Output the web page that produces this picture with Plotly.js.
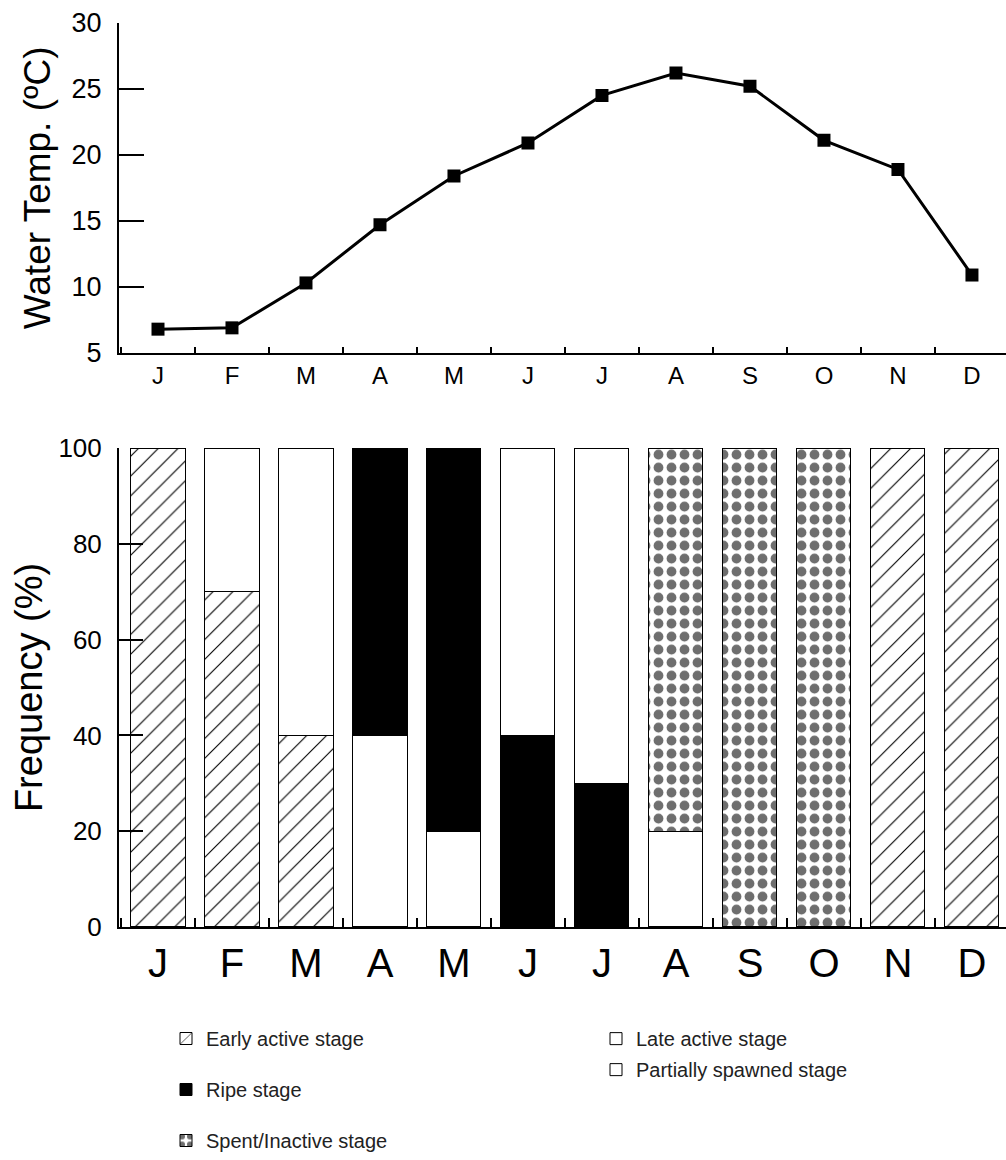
<!DOCTYPE html>
<html>
<head>
<meta charset="utf-8">
<script src="https://cdn.plot.ly/plotly-3.0.1.min.js"></script>
<style>
  html, body { margin: 0; padding: 0; background: #fff; }
  #chart { width: 1006px; height: 1160px; }
</style>
</head>
<body>
<div id="chart"></div>
<script>
// ---- data ----
const months = ["Jan","Feb","Mar","Apr","May","Jun","Jul","Aug","Sep","Oct","Nov","Dec"];
const monthLetters = ["J","F","M","A","M","J","J","A","S","O","N","D"];
const waterTemp = [6.8, 6.9, 10.3, 14.7, 18.4, 20.9, 24.5, 26.2, 25.2, 21.1, 18.9, 10.9];

const earlyActive = [100, 70, 40, 0, 0, 0, 0, 0, 0, 0, 100, 100];
const lateActive = [0, 30, 60, 40, 20, 0, 0, 0, 0, 0, 0, 0];
const ripe = [0, 0, 0, 60, 80, 40, 30, 0, 0, 0, 0, 0];
const partiallySpawned = [0, 0, 0, 0, 0, 60, 70, 20, 0, 0, 0, 0];
const spentInactive = [0, 0, 0, 0, 0, 0, 0, 80, 100, 100, 0, 0];

const tempTicks = [5, 10, 15, 20, 25, 30];
const freqTicks = [0, 20, 40, 60, 80, 100];

const FONT = "Liberation Sans, Arial, sans-serif";
const lineStyle = { color: "#000", width: 1 };

function bar(name, y, pattern, color, legend) {
  return {
    type: "bar", name: name, x: months, y: y,
    xaxis: "x2", yaxis: "y2",
    legend: legend, legendgroup: name,
    marker: Object.assign({ color: color, line: lineStyle }, pattern ? { pattern: pattern } : {})
  };
}

const traces = [
  {
    type: "scatter", mode: "lines+markers", x: months, y: waterTemp,
    xaxis: "x", yaxis: "y", showlegend: false,
    line: { color: "#000", width: 3 },
    marker: { symbol: "square", size: 13, color: "#000" }
  },
  bar("Early active stage", earlyActive,
      { shape: "/", fgcolor: "#000", bgcolor: "#fff", size: 14, solidity: 0.08 }, "#fff", "legend"),
  bar("Late active stage", lateActive, null, "#fff", "legend2"),
  bar("Ripe stage", ripe, null, "#000", "legend"),
  bar("Partially spawned stage", partiallySpawned, null, "#fff", "legend2"),
  bar("Spent/Inactive stage", spentInactive,
      { shape: ".", fgcolor: "#6e6e6e", bgcolor: "#fff", size: 13, solidity: 0.45 }, "#fff", "legend")
];

const H = 1160;
const xr = [-0.527, 11.46];

const layout = {
  width: 1006, height: 1160,
  margin: { l: 119, r: 0, t: 0, b: 0 },
  paper_bgcolor: "#fff", plot_bgcolor: "#fff",
  font: { family: FONT, color: "#000" },
  barmode: "stack", bargap: 0.27,
  xaxis: {
    domain: [0, 1], anchor: "y", type: "category", range: xr,
    tickmode: "array", tickvals: months, ticktext: monthLetters,
    tickson: "boundaries", ticks: "inside", ticklen: 6, tickwidth: 1.5, tickcolor: "#000",
    showline: true, linecolor: "#000", linewidth: 2, showgrid: false, zeroline: false,
    tickfont: { size: 24, family: FONT }, fixedrange: true
  },
  yaxis: {
    domain: [1 - 356 / H, 1 - 23 / H], anchor: "x", range: [5, 30],
    tickmode: "array", tickvals: tempTicks,
    ticks: "inside", ticklen: 25, tickwidth: 2, tickcolor: "#000",
    showline: true, linecolor: "#000", linewidth: 2, showgrid: false, zeroline: false,
    tickfont: { size: 27, family: FONT }, ticklabelstandoff: 10,
    title: { text: "Water Temp. (ºC)", font: { size: 37, family: FONT }, standoff: 10 },
    automargin: false
  },
  xaxis2: {
    domain: [0, 1], anchor: "y2", type: "category", range: xr,
    tickmode: "array", tickvals: months, ticktext: monthLetters,
    tickson: "boundaries", ticks: "inside", ticklen: 9, tickwidth: 2, tickcolor: "#000",
    showline: true, linecolor: "#000", linewidth: 2.5, showgrid: false, zeroline: false,
    tickfont: { size: 40, family: FONT }, fixedrange: true
  },
  yaxis2: {
    domain: [1 - 935 / H, 1 - 452 / H], anchor: "x2", range: [0, 100],
    tickmode: "array", tickvals: freqTicks,
    ticks: "inside", ticklen: 24, tickwidth: 2, tickcolor: "#000",
    showline: true, linecolor: "#000", linewidth: 2, showgrid: false, zeroline: false,
    tickfont: { size: 26, family: FONT }, ticklabelstandoff: 10,
    title: { text: "Frequency (%)", font: { size: 38, family: FONT }, standoff: 4 },
    automargin: false
  },
  legend: {
    x: (166 - 119) / 887, xanchor: "left", y: 1 - 1028 / H, yanchor: "top",
    font: { size: 20, family: FONT, color: "#222" },
    traceorder: "grouped", tracegroupgap: 22, bgcolor: "rgba(0,0,0,0)"
  },
  legend2: {
    x: (596 - 119) / 887, xanchor: "left", y: 1 - 1028 / H, yanchor: "top",
    font: { size: 20, family: FONT, color: "#222" },
    traceorder: "grouped", tracegroupgap: 2, bgcolor: "rgba(0,0,0,0)"
  },
  showlegend: true
};

Plotly.newPlot("chart", traces, layout, { displayModeBar: false, staticPlot: true });
</script>
</body>
</html>
